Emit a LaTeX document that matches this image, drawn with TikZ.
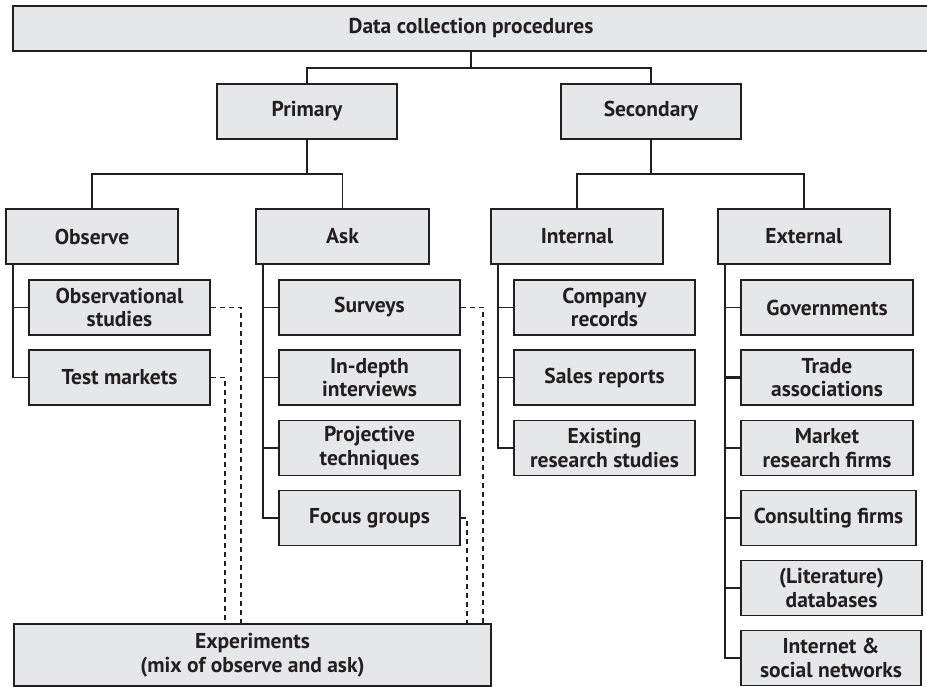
\documentclass[tikz,border=0pt]{standalone}
\usepackage{fontspec}
\setmainfont{PT Sans}
\definecolor{boxfill}{HTML}{E6E7E8}
\definecolor{ink}{HTML}{231F20}
\begin{document}
\begin{tikzpicture}[x=1pt,y=-1pt,
  box/.style={draw=ink, fill=boxfill, line width=1.9pt, inner sep=0pt,
    align=center, text=ink, font=\fontsize{21.5}{23.5}\selectfont\bfseries,
    minimum height=55pt},
  wa/.style={minimum width=181pt},
  wb/.style={minimum width=172pt},
  link/.style={draw=ink, line width=1.6pt},
  trunk/.style={draw=ink, line width=2.6pt},
  dashlink/.style={draw=ink, line width=1.5pt, dash pattern=on 5pt off 4pt}]
\useasboundingbox (0,0) rectangle (927,687);
% levels
\node[box, minimum width=916pt, minimum height=45pt] (top) at (471,28.5) {Data collection procedures};
\node[box, minimum width=180pt] (pri) at (307,111.5) {Primary};
\node[box, minimum width=180pt] (sec) at (651,111.5) {Secondary};
\node[box, wb] (obs) at (92,236.5) {Observe};
\node[box, minimum width=173pt] (ask) at (342.5,236.5) {Ask};
\node[box, wb] (int) at (577,236.5) {Internal};
\node[box, wb] (ext) at (804,236.5) {External};
% observe children
\node[box, wa] (os) at (119.5,307.5) {Observational\\studies};
\node[box, wa] (tm) at (119.5,377.5) {Test markets};
% ask children
\node[box, wa] (sv) at (369.5,307.5) {Surveys};
\node[box, wa] (idi) at (369.5,377.5) {In-depth\\interviews};
\node[box, wa] (pt) at (369.5,448) {Projective\\techniques};
\node[box, wa] (fg) at (369.5,518) {Focus groups};
% internal children
\node[box, wa] (cr) at (604.5,307.5) {Company\\records};
\node[box, wa] (sr) at (604.5,377.5) {Sales reports};
\node[box, wa] (ers) at (604.5,448) {Existing\\research studies};
% external children
\node[box, wb] (gov) at (827,307.5) {Governments};
\node[box, wb] (ta) at (827,377.5) {Trade\\associations};
\node[box, wb] (mrf) at (827,448) {Market\\research firms};
\node[box, minimum width=175pt] (cf) at (828.5,518) {Consulting firms};
\node[box, minimum width=181pt] (ld) at (831.5,588) {(Literature)\\databases};
\node[box, minimum width=180pt] (isn) at (831,658) {Internet \&\\social networks};
% experiments
\node[box, minimum width=477pt, minimum height=62pt] (exp) at (252.5,655) {Experiments\\(mix of observe and ask)};
% tree connectors
\coordinate (j1) at (471,68);
\coordinate (j2) at (307,174);
\coordinate (j3) at (651,174);
\draw[link] (top.south) -- (j1);
\draw[link] (pri.north) |- (j1) -| (sec.north);
\draw[link] (pri.south) -- (j2);
\draw[link] (obs.north) |- (j2) -| (ask.north);
\draw[link] (sec.south) -- (j3);
\draw[link] (int.north) |- (j3) -| (ext.north);
% trunks
\coordinate (to) at ([xshift=8pt]obs.south west);
\coordinate (ta0) at ([xshift=8pt]ask.south west);
\coordinate (ti) at ([xshift=8pt]int.south west);
\coordinate (te) at ([xshift=8pt]ext.south west);
\draw[link] (to) |- (tm.west);
\draw[link] (os.west) -- (os.west -| to);
\draw[trunk] (ta0) -- (ta0 |- pt.west);
\draw[link] (ta0 |- pt.west) |- (fg.west);
\draw[link] (sv.west) -- (sv.west -| ta0);
\draw[link] (idi.west) -- (idi.west -| ta0);
\draw[link] (pt.west) -- (pt.west -| ta0);
\draw[link] (ti) |- (ers.west);
\draw[link] (cr.west) -- (cr.west -| ti);
\draw[link] (sr.west) -- (sr.west -| ti);
\draw[trunk] (te) -- (te |- ld.west);
\draw[link] (te |- ld.west) |- (isn.west);
\draw[link] (gov.west) -- (gov.west -| te);
\draw[trunk] (ta.west) -- (ta.west -| te);
\draw[link] (mrf.west) -- (mrf.west -| te);
\draw[link] (cf.west) -- (cf.west -| te);
\draw[link] (ld.west) -- (ld.west -| te);
% dashed links to experiments
\coordinate (d1) at (241,0);
\coordinate (d2) at (225,0);
\coordinate (d3) at (483,0);
\coordinate (d4) at (467,0);
\draw[dashlink] (os.east) -| (d1 |- exp.north);
\draw[dashlink] (tm.east) -| (d2 |- exp.north);
\draw[dashlink] (sv.east) -| (d3 |- exp.north);
\draw[dashlink] (fg.east) -| (d4 |- exp.north);
\end{tikzpicture}
\end{document}
